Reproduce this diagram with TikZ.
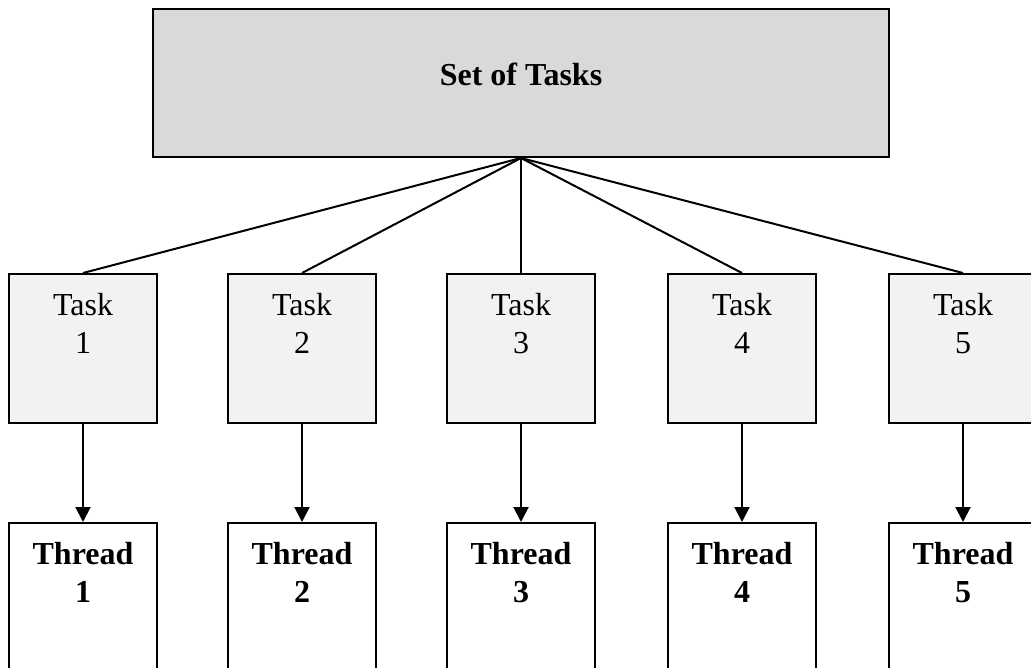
\documentclass[tikz,border=0pt]{standalone}
\usepackage{fontspec}
\setmainfont{Liberation Serif}
\usetikzlibrary{arrows.meta}

\begin{document}
\begin{tikzpicture}[x=1pt, y=-1pt,
                    box/.style={draw, rectangle, line width=2pt, inner sep=0, minimum width=148pt},
                    taskbox/.style={box, fill=black!5, minimum height=149pt},
                    threadbox/.style={box, fill=white, minimum height=200pt},
                    txt/.style={anchor=base, align=center, inner sep=0, font=\fontsize{32}{38}\selectfont},
                    boldtxt/.style={txt, font=\fontsize{32}{38}\selectfont\bfseries},
                    link/.style={line width=2pt},
                    >={Triangle[length=15pt, width=15pt]}]
                \clip (0,0) rectangle (1031,667);

                \node (set) [box, fill=black!15, minimum width=736pt, minimum height=148pt] at (521,83) {};
                \node (settxt) [boldtxt] at (521,85) {Set of Tasks};

                \node (task1) [taskbox] at (83,348.5) {};
                \node (task2) [taskbox] at (302,348.5) {};
                \node (task3) [taskbox] at (521,348.5) {};
                \node (task4) [taskbox] at (742,348.5) {};
                \node (task5) [taskbox] at (963,348.5) {};
                \node (tasktxt1) [txt] at (83,353) {Task\\1};
                \node (tasktxt2) [txt] at (302,353) {Task\\2};
                \node (tasktxt3) [txt] at (521,353) {Task\\3};
                \node (tasktxt4) [txt] at (742,353) {Task\\4};
                \node (tasktxt5) [txt] at (963,353) {Task\\5};

                \node (thread1) [threadbox] at (83,623) {};
                \node (thread2) [threadbox] at (302,623) {};
                \node (thread3) [threadbox] at (521,623) {};
                \node (thread4) [threadbox] at (742,623) {};
                \node (thread5) [threadbox] at (963,623) {};
                \node (threadtxt1) [boldtxt] at (83,602) {Thread\\1};
                \node (threadtxt2) [boldtxt] at (302,602) {Thread\\2};
                \node (threadtxt3) [boldtxt] at (521,602) {Thread\\3};
                \node (threadtxt4) [boldtxt] at (742,602) {Thread\\4};
                \node (threadtxt5) [boldtxt] at (963,602) {Thread\\5};

                \draw [link] (set.south) -- (task1.north);
                \draw [link] (set.south) -- (task2.north);
                \draw [link] (set.south) -- (task3.north);
                \draw [link] (set.south) -- (task4.north);
                \draw [link] (set.south) -- (task5.north);

                \draw [link, ->] (task1) -- (thread1);
                \draw [link, ->] (task2) -- (thread2);
                \draw [link, ->] (task3) -- (thread3);
                \draw [link, ->] (task4) -- (thread4);
                \draw [link, ->] (task5) -- (thread5);
            \end{tikzpicture}
\end{document}
